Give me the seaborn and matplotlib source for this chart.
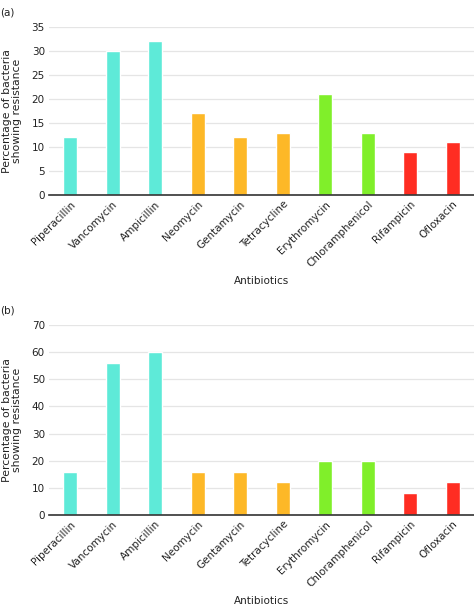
import matplotlib
matplotlib.use("Agg")
import matplotlib.pyplot as plt
import seaborn as sns
import pandas as pd

antibiotics = ["Piperacillin", "Vancomycin", "Ampicillin", "Neomycin", "Gentamycin",
               "Tetracycline", "Erythromycin", "Chloramphenicol", "Rifampicin", "Ofloxacin"]
resistance_a = [12, 30, 32, 17, 12, 13, 21, 13, 9, 11]
resistance_b = [16, 56, 60, 16, 16, 12, 20, 20, 8, 12]
groups = ["g1", "g1", "g1", "g2", "g2", "g2", "g3", "g3", "g4", "g4"]
group_colors = {"g1": "#5eead8", "g2": "#fdb827", "g3": "#80ef2a", "g4": "#ff2d22"}

sns.set_theme(style="white")
plt.rcParams['font.family'] = ['DejaVu Sans']

fig = plt.figure(figsize=(4.74, 6.07), dpi=100)

def panel(rect, values, ymax, step, label):
    ax = fig.add_axes(rect)
    df = pd.DataFrame({"Antibiotic": antibiotics, "Value": values, "Group": groups})
    sns.barplot(data=df, x="Antibiotic", y="Value", hue="Group", palette=group_colors,
                dodge=False, width=0.33, legend=False, ax=ax, saturation=1)
    ax.set_xlim(-0.5, 9.5)
    ax.set_ylim(0, ymax)
    ax.set_yticks(range(0, ymax + 1, step))
    ax.yaxis.grid(True, color="#e5e5e5", linewidth=0.9)
    ax.set_axisbelow(True)
    for s in ["top", "right", "left"]:
        ax.spines[s].set_visible(False)
    ax.spines["bottom"].set_color("#333333")
    ax.spines["bottom"].set_linewidth(1.2)
    ax.tick_params(axis="both", length=0, labelsize=7.5, colors="#222222", pad=3)
    plt.setp(ax.get_xticklabels(), rotation=45, ha="right", rotation_mode="anchor")
    ax.set_xlabel("Antibiotics", fontsize=7.5, color="#222222", labelpad=5)
    ax.set_ylabel("Percentage of bacteria\nshowing resistance", fontsize=7.8,
                  color="#222222", linespacing=1.0, labelpad=7)
    fig.text(0.0, rect[1] + rect[3] + 0.016, label, fontsize=7.5, color="#222222",
             ha="left", va="bottom")
    return ax

panel([0.1034, 0.6787, 0.8966, 0.2768], resistance_a, 35, 5, "(a)")
panel([0.1034, 0.1516, 0.8966, 0.3130], resistance_b, 70, 10, "(b)")

fig.savefig("out.png", dpi=100)
